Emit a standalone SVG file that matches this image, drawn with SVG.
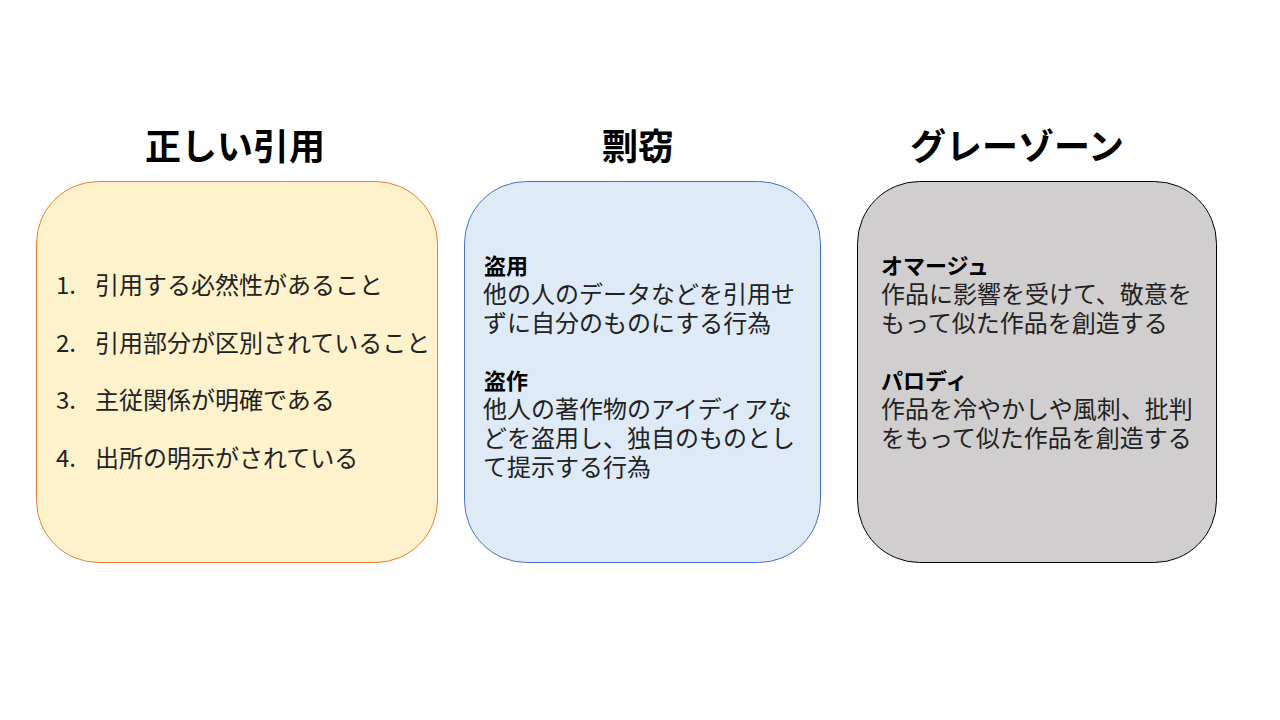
<svg xmlns="http://www.w3.org/2000/svg" width="1280" height="720" viewBox="0 0 1280 720">
<style>
text{font-family:"Noto Sans CJK JP","Noto Sans",sans-serif;fill:#222}
.t{font-size:36px;font-weight:bold;text-anchor:middle;fill:#000}
.b{font-size:24px}
.h{font-size:22px;font-weight:bold;fill:#000}
</style>
<rect width="1280" height="720" fill="#fff"/>
<g id="correct">
<text class="t" x="235" y="160">正しい引用</text>
<rect x="36.5" y="181.5" width="401" height="381" rx="62" fill="#fdf2cc" stroke="#ed7d31"/>
<text class="b" x="56" y="294">1.</text><text class="b" x="95" y="294">引用する必然性があること</text>
<text class="b" x="56" y="352">2.</text><text class="b" x="95" y="352">引用部分が区別されていること</text>
<text class="b" x="56" y="409">3.</text><text class="b" x="95" y="409">主従関係が明確である</text>
<text class="b" x="56" y="467">4.</text><text class="b" x="95" y="467">出所の明示がされている</text>
</g>
<g id="plagiarism">
<text class="t" x="638" y="160">剽窃</text>
<rect x="464.5" y="181.5" width="356" height="381" rx="62" fill="#deebf7" stroke="#4472c4"/>
<text class="h" x="484" y="274">盗用</text>
<text class="b" x="483" y="303">他の人のデータなどを引用せ</text>
<text class="b" x="483" y="332">ずに自分のものにする行為</text>
<text class="h" x="484" y="389">盗作</text>
<text class="b" x="483" y="418">他人の著作物のアイディアな</text>
<text class="b" x="483" y="447">どを盗用し、独自のものとし</text>
<text class="b" x="483" y="476">て提示する行為</text>
</g>
<g id="grayzone">
<text class="t" x="1017" y="160">グレーゾーン</text>
<rect x="857.5" y="181.5" width="359" height="381" rx="62" fill="#d0cece" stroke="#000"/>
<text class="h" x="881" y="274">オマージュ</text>
<text class="b" x="881" y="303">作品に影響を受けて、敬意を</text>
<text class="b" x="881" y="332">もって似た作品を創造する</text>
<text class="h" x="881" y="389">パロディ</text>
<text class="b" x="881" y="418">作品を冷やかしや風刺、批判</text>
<text class="b" x="881" y="447">をもって似た作品を創造する</text>
</g>
<g id="connectors"/>
</svg>
